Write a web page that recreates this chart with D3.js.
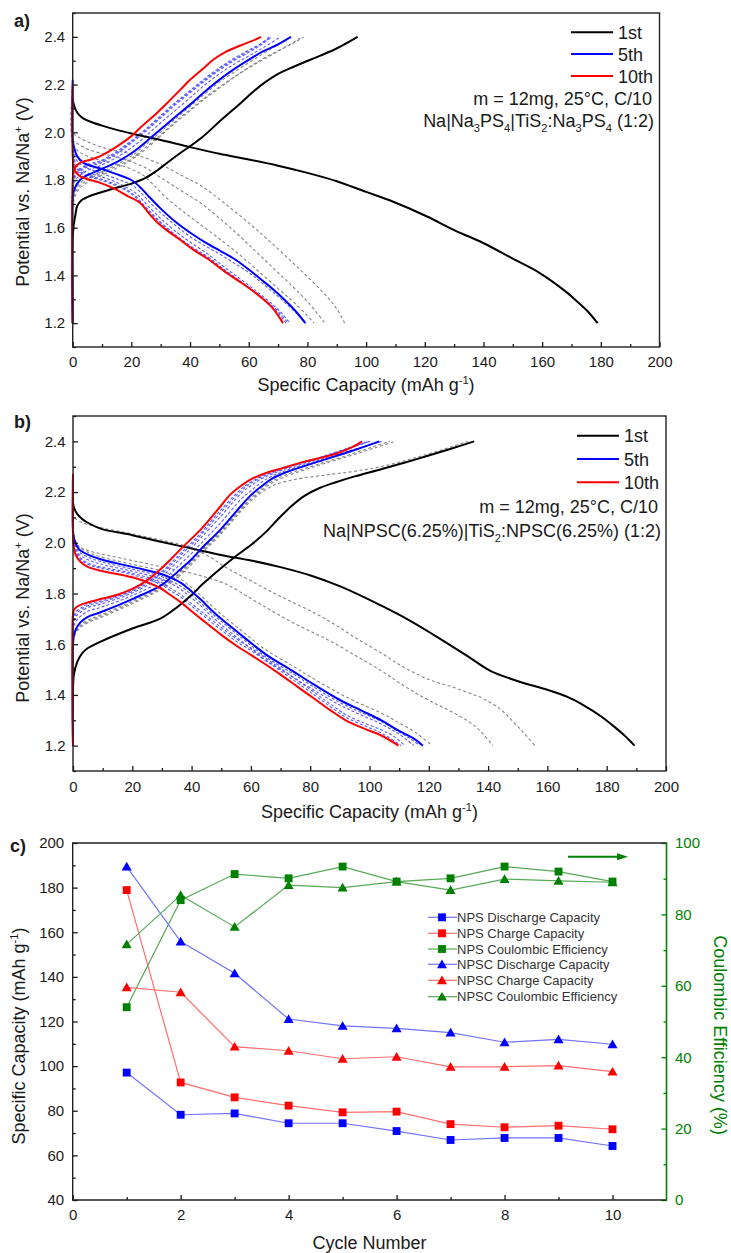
<!DOCTYPE html>
<html>
<head>
<meta charset="utf-8">
<script src="https://cdn.jsdelivr.net/npm/d3@7"></script>
<style>
  body { margin: 0; background: #fff; }
  svg { display: block; }
  text { white-space: pre; }
</style>
</head>
<body>
<svg id="chart" width="731" height="1253"></svg>
<script>
// ---------- Panel a: Na|Na3PS4|TiS2:Na3PS4, [capacity mAh/g, potential V] ----------
const npsDis1 = [[0,2.14],[0.3,2.12],[1,2.095],[2,2.075],[4,2.055],[7,2.04],[10,2.028],[15,2.01],[20,1.995],[30,1.968],[40,1.938],[50,1.91],[60,1.886],[70,1.86],[80,1.83],[90,1.795],[100,1.75],[108,1.715],[120.6,1.648],[130,1.59],[139.9,1.536],[150,1.47],[159.2,1.41],[168.3,1.33],[172,1.29],[175.5,1.25],[178.9,1.2]];
const npsChg1 = [[0,1.2],[0,1.55],[0.3,1.606],[1,1.66],[1.5,1.69],[3,1.715],[4.8,1.727],[7,1.738],[12.8,1.76],[20,1.785],[25,1.81],[28.8,1.84],[32,1.87],[36.8,1.914],[43.7,1.975],[50.5,2.05],[57.4,2.124],[62,2.175],[65.4,2.208],[70,2.245],[74,2.268],[81.4,2.306],[89.4,2.348],[97.1,2.4]];
const npsDis5 = [[0,2.22],[0,1.97],[0.5,1.935],[1.5,1.9],[3.7,1.872],[9.4,1.848],[16,1.82],[20,1.8],[23,1.77],[26,1.73],[30,1.68],[35,1.625],[40.2,1.578],[45,1.54],[50,1.505],[55,1.47],[60,1.425],[64,1.385],[68,1.345],[72,1.3],[76,1.25],[79.3,1.2]];
const npsChg5 = [[0,1.2],[0,1.72],[0.5,1.76],[2.5,1.8],[5,1.82],[9.4,1.844],[15,1.875],[20,1.912],[25,1.96],[29.9,2.012],[35,2.065],[40.2,2.118],[45,2.17],[50.5,2.225],[55,2.265],[60.8,2.31],[65,2.34],[69.9,2.368],[74.4,2.4]];
const npsDis10 = [[0,2.2],[0,1.9],[0.3,1.86],[1,1.835],[2.5,1.816],[6,1.8],[9.4,1.788],[14,1.765],[18.4,1.735],[22.9,1.705],[26,1.66],[28.6,1.625],[32,1.59],[36,1.555],[41.1,1.508],[46,1.47],[52.5,1.41],[58,1.365],[63.8,1.312],[68,1.265],[71.7,1.2]];
const npsChg10 = [[0,1.2],[0,1.8],[0.3,1.83],[1,1.855],[2.5,1.872],[6,1.885],[9.4,1.9],[15,1.94],[20,1.984],[24,2.03],[28.8,2.082],[32,2.12],[36.8,2.18],[40,2.22],[44.8,2.271],[48,2.305],[51.7,2.334],[57.4,2.365],[61,2.382],[64.2,2.4]];
const npsDis2 = [[0,2.2],[0,2.0],[2,1.98],[6,1.955],[12,1.93],[18,1.915],[23,1.9],[30,1.865],[37,1.82],[44,1.774],[52,1.7],[60,1.62],[66.5,1.55],[74,1.465],[80,1.395],[86,1.32],[90,1.26],[92.7,1.2]];
const npsDis3 = [[0,2.2],[0,1.97],[2,1.95],[6,1.925],[12,1.905],[18,1.885],[25,1.85],[30,1.81],[37,1.755],[44,1.7],[50,1.64],[56,1.575],[62,1.505],[68,1.435],[74,1.365],[80,1.29],[86,1.2]];
const npsDis4 = [[0,2.2],[0,1.95],[2,1.92],[6,1.895],[12,1.875],[18,1.855],[24,1.82],[27.5,1.78],[32,1.725],[38,1.665],[45,1.6],[52,1.535],[58,1.475],[64,1.41],[70,1.345],[76,1.28],[82.3,1.2]];
const npsChg2 = [[0,1.2],[0,1.68],[0.5,1.72],[2,1.76],[5,1.79],[10,1.82],[15,1.85],[20,1.885],[25,1.93],[30,1.985],[35,2.04],[40,2.09],[45,2.14],[50,2.185],[55,2.23],[60,2.27],[65,2.305],[70,2.34],[75,2.375],[78.2,2.4]];
const npsChg3 = [[0,1.2],[0,1.7],[0.5,1.735],[2,1.77],[5,1.8],[10,1.83],[15,1.858],[20,1.89],[25,1.938],[30,1.99],[35,2.045],[40,2.095],[45,2.145],[50,2.19],[55,2.232],[60,2.272],[65,2.31],[70,2.342],[75,2.372],[78.8,2.4]];
const npsChg4 = [[0,1.2],[0,1.71],[0.5,1.745],[2,1.78],[5,1.81],[10,1.835],[15,1.865],[20,1.9],[25,1.95],[30,2.002],[35,2.056],[40,2.108],[45,2.16],[50,2.21],[55,2.252],[60,2.292],[65,2.33],[70,2.368],[74.4,2.4]];
const npsDis6 = [[0,2.2],[0,1.95],[0.5,1.91],[1.5,1.88],[4,1.855],[9.4,1.83],[16,1.8],[20,1.78],[23,1.75],[26,1.71],[30,1.662],[35,1.61],[40,1.563],[45,1.525],[50,1.49],[55,1.452],[60,1.412],[64,1.373],[68,1.333],[72,1.29],[76,1.245],[79.6,1.2]];
const npsDis7 = [[0,2.2],[0,1.93],[0.5,1.89],[1.5,1.86],[4,1.835],[9.4,1.815],[15,1.79],[19,1.765],[22,1.74],[25,1.7],[29,1.65],[34,1.595],[40,1.54],[46,1.49],[52,1.432],[58,1.377],[63,1.33],[67,1.29],[71,1.245],[74,1.2]];
const npsDis8 = [[0,2.2],[0,1.92],[0.5,1.875],[1.5,1.85],[4,1.825],[9.4,1.805],[15,1.78],[19,1.755],[22,1.725],[25,1.685],[29,1.635],[34,1.58],[40,1.525],[46,1.478],[52,1.422],[58,1.367],[63,1.32],[67,1.278],[70,1.243],[72.6,1.2]];
const npsDis9 = [[0,2.2],[0,1.91],[0.5,1.87],[1.5,1.845],[4,1.82],[9.4,1.8],[15,1.775],[19,1.75],[22,1.72],[25,1.68],[29,1.63],[34,1.575],[40,1.52],[46,1.475],[52,1.42],[58,1.368],[63,1.323],[67,1.283],[70.5,1.243],[73.3,1.2]];
const npsChg6 = [[0,1.2],[0,1.75],[0.5,1.79],[2.5,1.82],[5,1.84],[9.4,1.86],[15,1.895],[20,1.935],[25,1.985],[30,2.04],[35,2.092],[40,2.145],[45,2.198],[50,2.245],[55,2.285],[60,2.32],[65,2.355],[70.9,2.4]];
const npsChg7 = [[0,1.2],[0,1.77],[0.5,1.81],[2.5,1.84],[5,1.86],[9.4,1.875],[15,1.915],[20,1.96],[25,2.01],[30,2.065],[35,2.12],[40,2.17],[45,2.22],[50,2.265],[55,2.305],[60,2.34],[63.5,2.365],[66.9,2.4]];
const npsChg8 = [[0,1.2],[0,1.77],[0.5,1.805],[2.5,1.835],[5,1.855],[9.4,1.87],[15,1.91],[20,1.955],[25,2.005],[30,2.06],[35,2.115],[40,2.165],[45,2.215],[50,2.26],[55,2.3],[60,2.335],[64,2.365],[67.8,2.4]];
const npsChg9 = [[0,1.2],[0,1.78],[0.5,1.815],[2.5,1.845],[5,1.865],[9.4,1.88],[15,1.92],[20,1.965],[25,2.015],[30,2.07],[35,2.125],[40,2.175],[45,2.225],[50,2.27],[55,2.31],[60,2.345],[64,2.37],[67.8,2.4]];

// ---------- Panel b: Na|NPSC(6.25%)|TiS2:NPSC(6.25%) ----------
const npscDis1 = [[0,2.16],[0.3,2.14],[1.4,2.114],[3,2.095],[4.7,2.081],[9.3,2.056],[20,2.03],[29.6,2.004],[39.8,1.978],[49.9,1.952],[60.1,1.93],[70.3,1.903],[80.4,1.87],[89.5,1.831],[97.4,1.79],[104.7,1.748],[113,1.697],[121.5,1.638],[132.8,1.555],[140.6,1.496],[149.6,1.456],[155.3,1.436],[160.9,1.417],[166.6,1.393],[172.1,1.36],[177.8,1.318],[182,1.28],[186,1.24],[189.4,1.2]];
const npscChg1 = [[0,1.2],[0,1.42],[0.3,1.48],[1.4,1.529],[3,1.563],[4.7,1.582],[9.3,1.61],[20,1.662],[29.6,1.702],[35,1.745],[39.8,1.792],[44,1.84],[49.9,1.9],[55,1.948],[60.1,1.992],[65,2.042],[69.2,2.094],[74,2.148],[78.2,2.186],[83,2.215],[88.4,2.238],[95,2.262],[104.5,2.292],[115.9,2.33],[127.2,2.37],[135.3,2.4]];
const npscDis5 = [[0,2.27],[0,2.05],[0.3,2.02],[0.8,2.0],[2,1.975],[4.7,1.955],[9.3,1.935],[20,1.905],[29.6,1.878],[33,1.862],[36.4,1.842],[40,1.808],[43.2,1.775],[46.2,1.74],[50,1.7],[57.4,1.63],[65,1.56],[74,1.495],[80,1.45],[90,1.38],[97,1.34],[104,1.3],[110,1.258],[115,1.228],[118,1.2]];
const npscChg5 = [[0,1.2],[0,1.6],[0.3,1.634],[1,1.66],[2.5,1.686],[5,1.708],[9.3,1.726],[20,1.778],[29.6,1.831],[33,1.862],[36.4,1.897],[40,1.935],[43.2,1.976],[49.9,2.054],[56.7,2.146],[60,2.188],[63.5,2.222],[67,2.252],[71.4,2.276],[82.7,2.32],[94,2.362],[103.3,2.4]];
const npscDis10 = [[0,2.27],[0,2.03],[0.2,1.99],[0.8,1.955],[2.5,1.925],[5,1.905],[9.3,1.89],[20,1.864],[25,1.845],[29.6,1.82],[33,1.793],[36.4,1.765],[40,1.73],[43.2,1.7],[49.9,1.638],[55,1.595],[60,1.558],[65,1.52],[70,1.48],[76,1.43],[82,1.38],[87,1.338],[92,1.3],[98,1.268],[104,1.24],[109.8,1.2]];
const npscChg10 = [[0,1.2],[0,1.72],[0.3,1.735],[1,1.745],[2.5,1.755],[5,1.765],[9.3,1.778],[15,1.795],[20,1.818],[25,1.852],[29.6,1.897],[33,1.935],[36.4,1.976],[43.2,2.054],[49.9,2.146],[53,2.19],[56.7,2.225],[60,2.25],[65.8,2.278],[70,2.292],[77.1,2.317],[88.4,2.35],[94,2.376],[97.5,2.4]];
const npscDis2 = [[0,2.27],[0,2.12],[0.5,2.1],[2,2.085],[5,2.072],[10,2.058],[20,2.035],[30,2.01],[40,1.98],[46,1.945],[52,1.9],[60,1.85],[68,1.8],[75,1.76],[82,1.72],[88,1.68],[96,1.62],[104,1.565],[110,1.52],[116,1.482],[122,1.452],[127,1.435],[133,1.41],[138.4,1.385],[144,1.345],[148,1.3],[152,1.25],[155.8,1.2]];
const npscDis3 = [[0,2.27],[0,2.02],[0.5,2.0],[2,1.985],[5,1.97],[10,1.955],[20,1.93],[30,1.905],[40,1.88],[46,1.86],[52,1.835],[60,1.78],[68,1.725],[75,1.68],[82,1.64],[88,1.605],[96,1.55],[104,1.495],[110,1.448],[116,1.405],[121.5,1.37],[127,1.338],[132.8,1.3],[137,1.262],[141.6,1.2]];
const npscDis4 = [[0,2.27],[0,2.06],[0.3,2.03],[0.8,2.01],[2,1.985],[4.7,1.965],[9.3,1.945],[20,1.915],[29.6,1.89],[33,1.875],[36.4,1.856],[40,1.823],[43.2,1.792],[46.2,1.758],[50,1.718],[57.4,1.648],[65,1.578],[74,1.515],[80,1.472],[90,1.405],[97,1.365],[104,1.328],[110,1.29],[116,1.248],[121.1,1.2]];
const npscChg2 = [[0,1.2],[0,1.6],[0.3,1.625],[1,1.645],[2.5,1.665],[5,1.685],[9.3,1.705],[20,1.76],[29.6,1.815],[33,1.84],[36.4,1.875],[40,1.915],[43.2,1.955],[49.9,2.035],[56.7,2.125],[60,2.165],[63.5,2.198],[68,2.228],[75,2.25],[85,2.267],[95,2.282],[104.5,2.302],[115.9,2.337],[127.2,2.377],[133.1,2.4]];
const npscChg3 = [[0,1.2],[0,1.61],[0.3,1.63],[1,1.65],[2.5,1.67],[5,1.69],[9.3,1.71],[20,1.765],[29.6,1.82],[33,1.848],[36.4,1.882],[40,1.922],[43.2,1.962],[49.9,2.04],[56.7,2.13],[60,2.172],[63.5,2.205],[67,2.235],[71.4,2.26],[82.7,2.305],[94,2.345],[102,2.375],[108.7,2.4]];
const npscChg4 = [[0,1.2],[0,1.62],[0.3,1.64],[1,1.655],[2.5,1.675],[5,1.695],[9.3,1.715],[20,1.77],[29.6,1.824],[33,1.852],[36.4,1.888],[40,1.928],[43.2,1.968],[49.9,2.046],[56.7,2.136],[60,2.178],[63.5,2.212],[67,2.242],[71.4,2.266],[82.7,2.31],[94,2.35],[101,2.378],[106.9,2.4]];
const npscDis6 = [[0,2.27],[0,2.04],[0.3,2.01],[0.8,1.99],[2,1.965],[4.7,1.945],[9.3,1.926],[20,1.896],[29.6,1.868],[33,1.85],[36.4,1.828],[40,1.795],[43.2,1.762],[46.2,1.728],[50,1.69],[57.4,1.62],[65,1.55],[74,1.485],[80,1.44],[90,1.37],[97,1.332],[104,1.295],[110,1.254],[114,1.226],[116.9,1.2]];
const npscDis7 = [[0,2.27],[0,2.04],[0.3,2.0],[0.8,1.98],[2,1.955],[4.7,1.935],[9.3,1.916],[20,1.888],[29.6,1.858],[33,1.84],[36.4,1.816],[40,1.782],[43.2,1.75],[46.2,1.716],[50,1.677],[57.4,1.607],[65,1.538],[74,1.472],[80,1.428],[90,1.36],[97,1.322],[104,1.285],[110,1.245],[115,1.2]];
const npscDis8 = [[0,2.27],[0,2.03],[0.3,1.99],[0.8,1.965],[2.5,1.935],[5,1.915],[9.3,1.9],[20,1.874],[29.6,1.835],[33,1.81],[36.4,1.785],[40,1.75],[43.2,1.72],[50,1.656],[55,1.612],[60,1.575],[65,1.535],[70,1.495],[76,1.445],[82,1.395],[87,1.352],[92,1.312],[98,1.28],[104,1.25],[110.7,1.2]];
const npscDis9 = [[0,2.27],[0,2.03],[0.3,1.995],[0.8,1.97],[2.5,1.94],[5,1.92],[9.3,1.905],[20,1.88],[29.6,1.845],[33,1.82],[36.4,1.795],[40,1.76],[43.2,1.73],[50,1.666],[55,1.622],[60,1.585],[65,1.545],[70,1.505],[76,1.455],[82,1.405],[87,1.362],[92,1.322],[98,1.29],[104,1.262],[108,1.238],[112,1.2]];
const npscChg6 = [[0,1.2],[0,1.64],[0.3,1.67],[1,1.69],[2.5,1.71],[5,1.73],[9.3,1.745],[20,1.792],[29.6,1.848],[33,1.88],[36.4,1.918],[40,1.958],[43.2,1.998],[49.9,2.08],[56.7,2.172],[60,2.205],[63.5,2.238],[67,2.262],[71.4,2.283],[82.7,2.325],[94,2.365],[104.2,2.4]];
const npscChg7 = [[0,1.2],[0,1.67],[0.3,1.69],[1,1.71],[2.5,1.725],[5,1.745],[9.3,1.758],[20,1.802],[29.6,1.865],[33,1.9],[36.4,1.94],[40,1.98],[43.2,2.02],[49.9,2.105],[56.7,2.195],[60,2.225],[63.5,2.252],[67,2.27],[71.4,2.29],[82.7,2.33],[94,2.375],[99.7,2.4]];
const npscChg8 = [[0,1.2],[0,1.68],[0.3,1.7],[1,1.72],[2.5,1.735],[5,1.752],[9.3,1.765],[20,1.808],[29.6,1.875],[33,1.912],[36.4,1.952],[40,1.992],[43.2,2.032],[49.9,2.12],[56.7,2.205],[60,2.235],[63.5,2.258],[67,2.275],[71.4,2.295],[82.7,2.333],[94,2.377],[99.7,2.4]];
const npscChg9 = [[0,1.2],[0,1.69],[0.3,1.71],[1,1.728],[2.5,1.742],[5,1.758],[9.3,1.77],[20,1.812],[29.6,1.882],[33,1.92],[36.4,1.96],[40,2.0],[43.2,2.04],[49.9,2.13],[56.7,2.212],[60,2.24],[63.5,2.262],[67,2.278],[71.4,2.297],[82.7,2.335],[94,2.378],[100.2,2.4]];

// ---------- Panel c: cycling summary ----------
const cycles = [1, 2, 3, 4, 5, 6, 7, 8, 9, 10];
const npsDischargeCap = [97.1, 78.2, 78.8, 74.4, 74.4, 70.9, 66.9, 67.8, 67.8, 64.2];
const npsChargeCap = [178.9, 92.7, 86.0, 82.3, 79.3, 79.6, 74.0, 72.6, 73.3, 71.7];
const npsCE = [54.0, 84.0, 91.3, 90.1, 93.4, 89.2, 90.1, 93.4, 92.0, 89.2];
const npscDischargeCap = [189.4, 155.8, 141.6, 121.1, 118.0, 116.9, 115.0, 110.7, 112.0, 109.8];
const npscChargeCap = [135.3, 133.1, 108.7, 106.9, 103.3, 104.2, 99.7, 99.7, 100.2, 97.5];
const npscCE = [71.6, 85.4, 76.5, 88.2, 87.5, 89.2, 86.8, 89.9, 89.4, 89.0];

// ---------- tick values ----------
const capTicks = [0, 20, 40, 60, 80, 100, 120, 140, 160, 180, 200];
const capMinor = [10, 30, 50, 70, 90, 110, 130, 150, 170, 190];
const voltTicks = [1.2, 1.4, 1.6, 1.8, 2.0, 2.2, 2.4];
const voltMinor = [1.1, 1.3, 1.5, 1.7, 1.9, 2.1, 2.3, 2.5];
const cycleTicks = [0, 2, 4, 6, 8, 10];
const cycleMinor = [1, 3, 5, 7, 9];
const specCapTicks = [40, 60, 80, 100, 120, 140, 160, 180, 200];
const specCapMinor = [50, 70, 90, 110, 130, 150, 170, 190];
const ceTicks = [0, 20, 40, 60, 80, 100];
const ceMinor = [10, 30, 50, 70, 90];

const FONT = '"Liberation Sans", Arial, Helvetica, sans-serif';
const INK = '#1a1a1a';
const GREEN = '#008000';
const svg = d3.select('#chart');

// text with sub/superscript pieces: parts = [[str, 'sub'|'sup'|undefined], ...]
function rich(g, x, y, parts, o) {
  const t = g.append('text')
    .attr('x', x).attr('y', y)
    .attr('font-family', FONT)
    .attr('font-size', o.size)
    .attr('fill', o.color || INK)
    .attr('text-anchor', o.anchor || 'start');
  if (o.transform) t.attr('transform', o.transform);
  let shift = 0;
  parts.forEach(([s, kind]) => {
    const sp = t.append('tspan').text(s);
    let target = 0;
    if (kind === 'sub') { target = o.size * 0.28; sp.attr('font-size', o.size * 0.62); }
    if (kind === 'sup') { target = -o.size * 0.4; sp.attr('font-size', o.size * 0.62); }
    if (target !== shift) { sp.attr('dy', target - shift); shift = target; }
  });
  return t;
}

function styleAxis(sel, color, fontSize) {
  sel.select('.domain').remove();
  sel.selectAll('line').attr('stroke', color).attr('stroke-width', 1.3);
  sel.selectAll('text').attr('fill', color).attr('font-size', fontSize).attr('font-family', FONT);
}

// charge/discharge voltage profile panel
function profilePanel(o) {
  const x = d3.scaleLinear().domain([0, 200]).range(o.xr);
  const y = d3.scaleLinear().domain([1.1, 2.5]).range(o.yr);
  const g = svg.append('g');
  const line = d3.line().x(d => x(d[0])).y(d => y(d[1])).curve(d3.curveCatmullRom.alpha(0.5));

  const draw = (data, color, w, dash) => g.append('path')
    .attr('d', line(data)).attr('fill', 'none')
    .attr('stroke', color).attr('stroke-width', w)
    .attr('stroke-dasharray', dash || null)
    .attr('stroke-linejoin', 'round').attr('stroke-linecap', 'butt');

  o.grayCycles.forEach(c => draw(c, '#858585', 1.1, '3,2.5'));
  o.blueCycles.forEach(c => draw(c, '#5a5aff', 1.1, '3,2'));
  o.first.forEach(c => draw(c, '#000000', 2));
  o.fifth.forEach(c => draw(c, '#0000ff', 2));
  o.tenth.forEach(c => draw(c, '#ff0000', 2));

  const [x0, x1] = x.range();
  const [yb, yt] = y.range();

  const bx = g.append('g').attr('transform', `translate(0,${yb})`)
    .call(d3.axisBottom(x).tickValues(capTicks).tickSize(-5).tickPadding(o.xPad).tickFormat(d3.format('d')));
  styleAxis(bx, INK, 15);
  const bxm = g.append('g').attr('transform', `translate(0,${yb})`)
    .call(d3.axisBottom(x).tickValues(capMinor).tickSize(-3).tickFormat(''));
  styleAxis(bxm, INK, 15);
  const ly = g.append('g').attr('transform', `translate(${x0},0)`)
    .call(d3.axisLeft(y).tickValues(voltTicks).tickSize(-5).tickPadding(7.5).tickFormat(d3.format('.1f')));
  styleAxis(ly, INK, 15);
  const lym = g.append('g').attr('transform', `translate(${x0},0)`)
    .call(d3.axisLeft(y).tickValues(voltMinor).tickSize(-3).tickFormat(''));
  styleAxis(lym, INK, 15);

  g.append('rect').attr('x', x0).attr('y', yt).attr('width', x1 - x0).attr('height', yb - yt)
    .attr('fill', 'none').attr('stroke', '#222').attr('stroke-width', 1.4);

  // axis titles
  rich(g, (x0 + x1) / 2, o.xTitleY, [['Specific Capacity (mAh g'], ['-1', 'sup'], [')']], { size: 18, anchor: 'middle' });
  rich(g, 0, 0, [['Potential vs. Na/Na'], ['+', 'sup'], [' (V)']],
    { size: 18, anchor: 'middle', transform: `translate(29,${o.yTitleY}) rotate(-90)` });

  // panel label
  g.append('text').attr('x', 14).attr('y', o.labelY).text(o.label)
    .attr('font-family', FONT).attr('font-size', 18).attr('font-weight', 'bold').attr('fill', INK);

  // legend
  const legend = [['1st', '#000000'], ['5th', '#0000ff'], ['10th', '#ff0000']];
  legend.forEach(([name, color], i) => {
    const ly0 = o.legY[i];
    g.append('line').attr('x1', o.legX[0]).attr('x2', o.legX[1]).attr('y1', ly0).attr('y2', ly0)
      .attr('stroke', color).attr('stroke-width', 2);
    g.append('text').attr('x', o.legX[1] + 5).attr('y', ly0 + 6.5).text(name)
      .attr('font-family', FONT).attr('font-size', 18).attr('fill', INK);
  });
  rich(g, o.noteX[0], o.noteY[0], [['m = 12mg, 25°C, C/10']], { size: 18, anchor: 'end' });
  rich(g, o.noteX[1], o.noteY[1], o.cellParts, { size: 18, anchor: 'end' });
}

profilePanel({
  xr: [72.7, 659.5], yr: [347, 13], xPad: 9.5,
  xTitleY: 391, yTitleY: 192, label: 'a)', labelY: 27,
  first: [npsDis1, npsChg1], fifth: [npsDis5, npsChg5], tenth: [npsDis10, npsChg10],
  grayCycles: [npsDis2, npsDis3, npsDis4, npsChg2, npsChg3, npsChg4],
  blueCycles: [npsDis6, npsDis7, npsDis8, npsDis9, npsChg6, npsChg7, npsChg8, npsChg9],
  legX: [571, 613], legY: [32.3, 54, 76],
  noteX: [652, 654], noteY: [104.5, 126.5],
  cellParts: [['Na|Na'], ['3', 'sub'], ['PS'], ['4', 'sub'], ['|TiS'], ['2', 'sub'], [':Na'], ['3', 'sub'], ['PS'], ['4', 'sub'], [' (1:2)']]
});

profilePanel({
  xr: [73, 666], yr: [771, 416], xPad: 10,
  xTitleY: 818, yTitleY: 608, label: 'b)', labelY: 428,
  first: [npscDis1, npscChg1], fifth: [npscDis5, npscChg5], tenth: [npscDis10, npscChg10],
  grayCycles: [npscDis2, npscDis3, npscDis4, npscChg2, npscChg3, npscChg4],
  blueCycles: [npscDis6, npscDis7, npscDis8, npscDis9, npscChg6, npscChg7, npscChg8, npscChg9],
  legX: [577, 619], legY: [435.7, 459, 482.3],
  noteX: [658, 661], noteY: [513, 536.5],
  cellParts: [['Na|NPSC(6.25%)|TiS'], ['2', 'sub'], [':NPSC(6.25%) (1:2)']]
});

// ---------- Panel c ----------
(function cyclingPanel() {
  const g = svg.append('g');
  const x = d3.scaleLinear().domain([0, 11]).range([72.7, 666.5]);
  const yL = d3.scaleLinear().domain([40, 200]).range([1200, 843]);
  const yR = d3.scaleLinear().domain([0, 100]).range([1200, 843]);
  const [x0, x1] = x.range();

  const square = d3.symbol().type(d3.symbolSquare).size(62)();
  const triangle = d3.symbol().type(d3.symbolTriangle).size(44)();

  const series = [
    { name: 'NPS Discharge Capacity', vals: npsDischargeCap, y: yL, fill: '#0000ff', line: '#7272ff', shape: square },
    { name: 'NPS Charge Capacity', vals: npsChargeCap, y: yL, fill: '#ff0000', line: '#ff6e6e', shape: square },
    { name: 'NPS Coulombic Efficiency', vals: npsCE, y: yR, fill: GREEN, line: '#56a856', shape: square },
    { name: 'NPSC Discharge Capacity', vals: npscDischargeCap, y: yL, fill: '#0000ff', line: '#7272ff', shape: triangle },
    { name: 'NPSC Charge Capacity', vals: npscChargeCap, y: yL, fill: '#ff0000', line: '#ff6e6e', shape: triangle },
    { name: 'NPSC Coulombic Efficiency', vals: npscCE, y: yR, fill: GREEN, line: '#56a856', shape: triangle }
  ];

  series.forEach(s => {
    const pts = cycles.map((c, i) => [x(c), s.y(s.vals[i])]);
    g.append('path').attr('d', d3.line()(pts)).attr('fill', 'none')
      .attr('stroke', s.line).attr('stroke-width', 1.2);
  });
  series.forEach(s => {
    const dy = s.shape === triangle ? 1 : 0;
    cycles.forEach((c, i) => {
      g.append('path').attr('d', s.shape)
        .attr('transform', `translate(${x(c)},${s.y(s.vals[i]) + dy})`)
        .attr('fill', s.fill);
    });
  });

  // axes
  const bx = g.append('g').attr('transform', 'translate(0,1200)')
    .call(d3.axisBottom(x).tickValues(cycleTicks).tickSize(-5).tickPadding(9.7).tickFormat(d3.format('d')));
  styleAxis(bx, INK, 15);
  const bxm = g.append('g').attr('transform', 'translate(0,1200)')
    .call(d3.axisBottom(x).tickValues(cycleMinor).tickSize(-3).tickFormat(''));
  styleAxis(bxm, INK, 15);
  const ly = g.append('g').attr('transform', `translate(${x0},0)`)
    .call(d3.axisLeft(yL).tickValues(specCapTicks).tickSize(-5).tickPadding(8.5).tickFormat(d3.format('d')));
  styleAxis(ly, INK, 15);
  const lym = g.append('g').attr('transform', `translate(${x0},0)`)
    .call(d3.axisLeft(yL).tickValues(specCapMinor).tickSize(-3).tickFormat(''));
  styleAxis(lym, INK, 15);
  const ry = g.append('g').attr('transform', `translate(${x1},0)`)
    .call(d3.axisRight(yR).tickValues(ceTicks).tickSize(-5).tickPadding(8.5).tickFormat(d3.format('d')));
  styleAxis(ry, GREEN, 15);
  const rym = g.append('g').attr('transform', `translate(${x1},0)`)
    .call(d3.axisRight(yR).tickValues(ceMinor).tickSize(-3).tickFormat(''));
  styleAxis(rym, GREEN, 15);

  // frame: black on three sides, green on the efficiency axis
  g.append('path').attr('d', `M${x1},843H${x0}V1200H${x1}`).attr('fill', 'none')
    .attr('stroke', '#222').attr('stroke-width', 1.4);
  g.append('line').attr('x1', x1).attr('x2', x1).attr('y1', 842.3).attr('y2', 1200.7)
    .attr('stroke', GREEN).attr('stroke-width', 1.6);

  // arrow pointing at the efficiency axis
  g.append('line').attr('x1', 568).attr('x2', 619).attr('y1', 856.7).attr('y2', 856.7)
    .attr('stroke', GREEN).attr('stroke-width', 2);
  g.append('path').attr('d', 'M617,853.2L628,856.7L617,860.2Z').attr('fill', GREEN);

  // titles
  rich(g, (x0 + x1) / 2, 1249, [['Cycle Number']], { size: 18, anchor: 'middle' });
  rich(g, 0, 0, [['Specific Capacity (mAh g'], ['-1', 'sup'], [')']],
    { size: 18, anchor: 'middle', transform: 'translate(25,1036) rotate(-90)' });
  rich(g, 0, 0, [['Coulombic Efficiency (%)']],
    { size: 18, anchor: 'middle', color: GREEN, transform: 'translate(714,1035) rotate(90)' });
  g.append('text').attr('x', 10).attr('y', 852).text('c)')
    .attr('font-family', FONT).attr('font-size', 18).attr('font-weight', 'bold').attr('fill', INK);

  // legend
  const rowY = [917.3, 933.3, 949, 964.3, 980.3, 996.7];
  series.forEach((s, i) => {
    const ry0 = rowY[i];
    g.append('line').attr('x1', 428).attr('x2', 457).attr('y1', ry0).attr('y2', ry0)
      .attr('stroke', s.line).attr('stroke-width', 1.2);
    g.append('path').attr('d', s.shape)
      .attr('transform', `translate(442,${ry0 + (s.shape === triangle ? 1 : 0)})`).attr('fill', s.fill);
    g.append('text').attr('x', 457).attr('y', ry0 + 4.6).text(s.name)
      .attr('font-family', FONT).attr('font-size', 13).attr('fill', '#333');
  });
})();
</script>
</body>
</html>
